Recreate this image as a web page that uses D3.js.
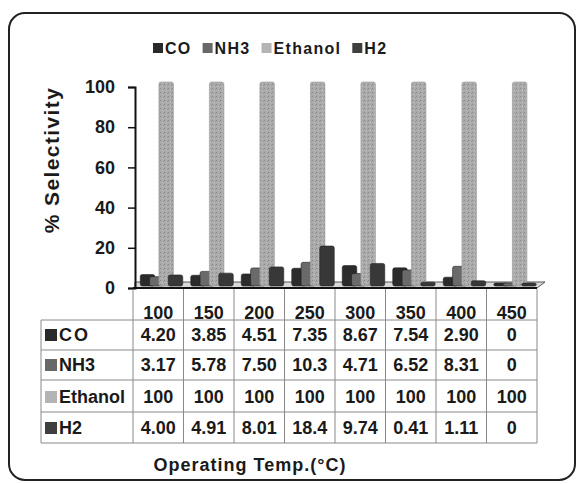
<!DOCTYPE html>
<html>
<head>
<meta charset="utf-8">
<script src="https://cdn.jsdelivr.net/npm/d3@7"></script>
<style>
  html, body { margin: 0; padding: 0; background: #fff; }
  svg { display: block; }
  text { font-family: "Liberation Sans", Arial, sans-serif; font-weight: bold; fill: #1a1a1a; }
</style>
</head>
<body>
<svg id="chart" width="579" height="484"></svg>
<script>
// ---- data ----
const temps   = [100, 150, 200, 250, 300, 350, 400, 450];
const series  = ["CO", "NH3", "Ethanol", "H2"];
const coVals  = [4.20, 3.85, 4.51, 7.35, 8.67, 7.54, 2.90, 0];
const nh3Vals = [3.17, 5.78, 7.50, 10.3, 4.71, 6.52, 8.31, 0];
const ethVals = [100, 100, 100, 100, 100, 100, 100, 100];
const h2Vals  = [4.00, 4.91, 8.01, 18.4, 9.74, 0.41, 1.11, 0];
const yTicks  = [0, 20, 40, 60, 80, 100];
const yTitle  = "% Selectivity";
const xTitle  = "Operating Temp.(\u00B0C)";

const valuesBySeries = { "CO": coVals, "NH3": nh3Vals, "Ethanol": ethVals, "H2": h2Vals };
const colors = { "CO": "#2b2b2b", "NH3": "#6a6a6a", "Ethanol": "url(#ethPat)", "H2": "#383838" };
const legendColors = { "CO": "#2a2a2a", "NH3": "#686868", "Ethanol": "#b4b4b4", "H2": "#3f3f3f" };

const svg = d3.select("#chart");

// pattern for ethanol (speckled light grey)
const defs = svg.append("defs");
const pat = defs.append("pattern").attr("id", "ethPat").attr("patternUnits", "userSpaceOnUse")
  .attr("width", 4).attr("height", 4);
pat.append("rect").attr("width", 4).attr("height", 4).attr("fill", "#ababab");
pat.append("rect").attr("x", 0).attr("y", 0).attr("width", 1).attr("height", 1).attr("fill", "#8a8a8a");
pat.append("rect").attr("x", 2).attr("y", 2).attr("width", 1).attr("height", 1).attr("fill", "#c6c6c6");
pat.append("rect").attr("x", 3).attr("y", 1).attr("width", 1).attr("height", 1).attr("fill", "#959595");

// outer rounded frame
svg.append("rect").attr("x", 9).attr("y", 13).attr("width", 566).attr("height", 467)
  .attr("rx", 16).attr("fill", "none").attr("stroke", "#222").attr("stroke-width", 2);

// scales
const x0 = d3.scaleBand().domain(temps).range([133, 537]).padding(0);
const xs = d3.scalePoint().domain(series).range([14.5, 42.5]);
const barW = 14.5;
const y = d3.scaleLinear().domain([0, 100]).range([288, 87]);
const depth = 5;

// floor (3D)
const fl = x0.range();
svg.append("polygon")
  .attr("points", [[135, 288], [fl[1], 288], [fl[1] + 8, 282], [135, 282]].map(p => p.join(",")).join(" "))
  .attr("fill", "#d9d9d9").attr("stroke", "#555").attr("stroke-width", 1);

// bars
series.forEach(s => {
  const vals = valuesBySeries[s];
  svg.append("g").selectAll("rect").data(temps.map((t, i) => ({ t, v: vals[i] })))
    .join("rect")
    .attr("x", d => x0(d.t) + xs(s) - barW / 2)
    .attr("y", d => y(d.v) - depth)
    .attr("width", barW)
    .attr("height", d => Math.max(2, y(0) - 2 - (y(d.v) - depth)))
    .attr("rx", 2)
    .attr("fill", colors[s])
    .attr("stroke", s === "Ethanol" ? "#9a9a9a" : "#222")
    .attr("stroke-width", 0.6);
});

// baseline
svg.append("line").attr("x1", 133).attr("x2", fl[1]).attr("y1", 288).attr("y2", 288)
  .attr("stroke", "#111").attr("stroke-width", 2);

// y axis
const yAxis = d3.axisLeft(y).tickValues(yTicks).tickSize(7).tickPadding(13);
const gy = svg.append("g").attr("transform", "translate(135,0)").call(yAxis);
gy.select(".domain").attr("stroke", "#111").attr("stroke-width", 2);
gy.selectAll(".tick line").attr("stroke", "#111").attr("stroke-width", 1.5);
gy.selectAll(".tick text").style("font-size", "18px").style("font-weight", "bold")
  .style("font-family", "'Liberation Sans', Arial, sans-serif").attr("fill", "#1a1a1a");

// y title
svg.append("text").attr("transform", "translate(59,160) rotate(-90)")
  .attr("text-anchor", "middle").style("font-size", "21px").style("letter-spacing", "1.4px")
  .text(yTitle);

// legend
let lx = 153;
series.forEach(s => {
  svg.append("rect").attr("x", lx).attr("y", 43).attr("width", 10).attr("height", 10)
    .attr("fill", legendColors[s]);
  const t = svg.append("text").attr("x", lx + 12).attr("y", 54)
    .style("font-size", "16px").style("letter-spacing", "1.3px").text(s);
  lx += 12 + t.node().getComputedTextLength() + 11;
});

// ---- data table ----
const tableLeft = 41;
const rowEdges = [320, 350, 380, 412, 443];
const grid = svg.append("g").attr("stroke", "#8a8a8a").attr("stroke-width", 1);
const colEdges = temps.map(t => x0(t)).concat([x0.range()[1]]);
colEdges.forEach(cx => {
  grid.append("line").attr("x1", cx).attr("x2", cx).attr("y1", 289).attr("y2", rowEdges[rowEdges.length - 1]);
});
grid.append("line").attr("x1", tableLeft).attr("x2", tableLeft).attr("y1", rowEdges[0]).attr("y2", rowEdges[rowEdges.length - 1]);
rowEdges.forEach(ry => {
  grid.append("line").attr("x1", tableLeft).attr("x2", x0.range()[1]).attr("y1", ry).attr("y2", ry);
});

// category labels
svg.append("g").selectAll("text").data(temps).join("text")
  .attr("x", d => x0(d) + x0.bandwidth() / 2).attr("y", 319)
  .attr("text-anchor", "middle").style("font-size", "18px").text(d => d);

const fmt = v => v === 0 ? "0" : (v >= 100 ? String(v) : (v < 1 ? v.toFixed(2) : d3.format(".3r")(v)));
series.forEach((s, r) => {
  const bot = rowEdges[r + 1];
  const base = bot - 9;
  svg.append("rect").attr("x", 45).attr("y", base - 12).attr("width", 12).attr("height", 12)
    .attr("fill", legendColors[s]);
  svg.append("text").attr("x", 59).attr("y", base).style("font-size", "18px")
    .style("letter-spacing", s === "CO" ? "2px" : "0px").text(s);
  svg.append("g").selectAll("text").data(valuesBySeries[s]).join("text")
    .attr("x", (d, i) => x0(temps[i]) + x0.bandwidth() / 2).attr("y", base)
    .attr("text-anchor", "middle").style("font-size", "18px").text(d => fmt(d));
});

// x title
svg.append("text").attr("x", 250).attr("y", 471).attr("text-anchor", "middle")
  .style("font-size", "18px").style("letter-spacing", "1px").text(xTitle);
</script>
</body>
</html>
